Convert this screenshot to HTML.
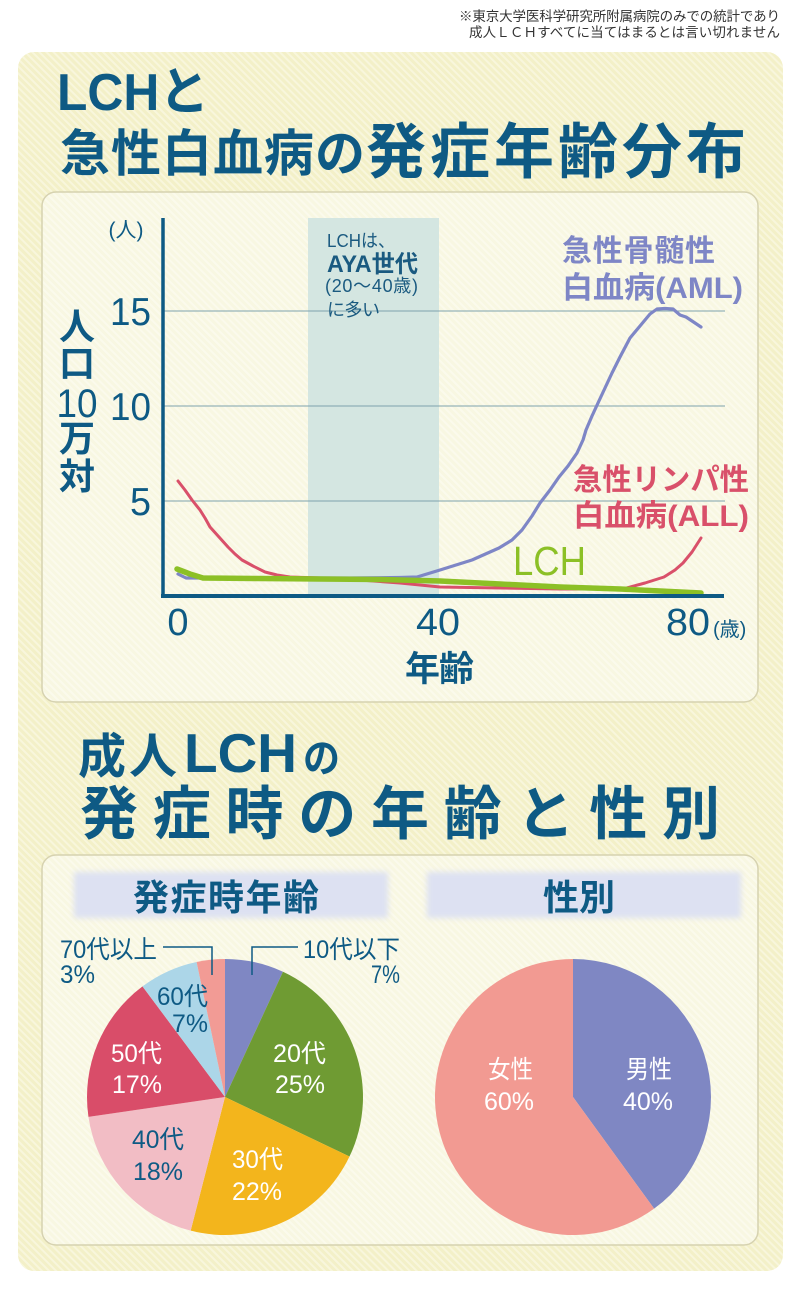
<!DOCTYPE html>
<html><head><meta charset="utf-8">
<style>
html,body{margin:0;padding:0;background:#fff;}
svg{display:block;}
text{font-family:"Liberation Sans","Noto Sans CJK JP",sans-serif;}
</style></head>
<body>
<svg width="800" height="1289" viewBox="0 0 800 1289" xmlns="http://www.w3.org/2000/svg">
<defs>
<pattern id="st" width="5" height="5" patternUnits="userSpaceOnUse" patternTransform="rotate(-45)">
<rect width="5" height="5" fill="#f3f0c8"/>
<rect width="2" height="5" fill="#f8f6dc"/>
</pattern>
<pattern id="st2" width="5" height="5" patternUnits="userSpaceOnUse" patternTransform="rotate(-45)">
<rect width="5" height="5" fill="#f8f7e2"/>
<rect width="2" height="5" fill="#fbfaec"/>
</pattern>
<filter id="bl" x="-10%" y="-30%" width="120%" height="160%"><feGaussianBlur stdDeviation="3"/></filter>
</defs>

<!-- note -->
<g fill="#333" font-size="13.5">
<text x="780" y="21" text-anchor="end" textLength="321">※東京大学医科学研究所附属病院のみでの統計であり</text>
<text x="780" y="37" text-anchor="end" textLength="311">成人ＬＣＨすべてに当てはまるとは言い切れません</text>
</g>

<!-- outer panel -->
<rect x="18" y="52" width="765" height="1219" rx="16" fill="url(#st)"/>

<!-- title 1 -->
<g fill="#0e5a84" font-weight="bold">
<text x="57" y="110" font-size="52" textLength="152" lengthAdjust="spacingAndGlyphs">LCHと</text>
<text x="60" y="171" font-size="50" textLength="305">急性白血病の</text>
<text x="366" y="173" font-size="60" textLength="380">発症年齢分布</text>
</g>

<!-- chart panel -->
<rect x="42" y="192" width="716" height="510" rx="14" fill="url(#st2)" stroke="#d6d2b0" stroke-width="1.5"/>

<!-- shaded band -->
<rect x="308" y="218" width="131" height="378" fill="#d4e6e1"/>

<!-- gridlines -->
<g stroke="#7ea3ad" stroke-width="1">
<line x1="163" y1="311" x2="725" y2="311"/>
<line x1="163" y1="406" x2="725" y2="406"/>
<line x1="163" y1="501" x2="725" y2="501"/>
</g>

<!-- band text -->
<g fill="#1a5a80">
<text x="327" y="247" font-size="18" textLength="68" lengthAdjust="spacingAndGlyphs">LCHは、</text>
<text x="327" y="272" font-size="24" font-weight="bold" textLength="91" lengthAdjust="spacingAndGlyphs">AYA世代</text>
<text x="325" y="292" font-size="18" textLength="93">(20〜40歳)</text>
<text x="327" y="316" font-size="18" textLength="53">に多い</text>
</g>

<!-- curves -->
<polyline fill="none" stroke="#7e86c6" stroke-width="3.2" stroke-linejoin="round" stroke-linecap="round"
points="178,574 186,578 250,578 300,578 350,578 400,577.5 417,577 440,570 472,560 499,548 512,540 522,530 532,516 540,503 550,490 559,477 568,466 577,453 583,440 586,430 592,416 598,403 605,388 612,373 620,357 630,338 640,326 650,314 657,309 665,308.5 673,309 680,315 686,317 692,321 701,327"/>
<polyline fill="none" stroke="#d9506a" stroke-width="3" stroke-linejoin="round" stroke-linecap="round"
points="178,481 185,490 192,500 200,510 205,518 210,527 219,537 228,547 235,554 242,560 253,566 265,572 277,575 290,577 320,578 360,580 400,583 440,587 500,588 560,589 623,589 645,583 664,577 675,570 683,563 692,552 701,538"/>
<polyline fill="none" stroke="#8cc026" stroke-width="5.5" stroke-linejoin="round" stroke-linecap="round"
points="177,569 190,574 203,578 260,578.5 320,579 380,579.5 440,581 500,584 560,587 620,589 660,591 701,593"/>

<!-- axes -->
<line x1="163" y1="218" x2="163" y2="598" stroke="#0e5a84" stroke-width="3.5"/>
<line x1="161" y1="596" x2="724" y2="596" stroke="#0e5a84" stroke-width="4"/>

<!-- axis labels -->
<g fill="#0e5a84">
<text x="126" y="237" font-size="21" text-anchor="middle">(人)</text>
<text x="151" y="325" font-size="39" text-anchor="end" textLength="41" lengthAdjust="spacingAndGlyphs">15</text>
<text x="151" y="420" font-size="39" text-anchor="end" textLength="41" lengthAdjust="spacingAndGlyphs">10</text>
<text x="151" y="515" font-size="39" text-anchor="end" textLength="21" lengthAdjust="spacingAndGlyphs">5</text>
<g font-size="36" font-weight="bold" text-anchor="middle">
<text x="77" y="339">人</text>
<text x="77" y="376">口</text>
<text x="77" y="417" font-size="40" font-weight="normal" textLength="41" lengthAdjust="spacingAndGlyphs">10</text>
<text x="77" y="451">万</text>
<text x="77" y="489">対</text>
</g>
<text x="178" y="635" font-size="38" text-anchor="middle">0</text>
<text x="438" y="635" font-size="38" text-anchor="middle" textLength="44" lengthAdjust="spacingAndGlyphs">40</text>
<text x="688" y="635" font-size="38" text-anchor="middle" textLength="44" lengthAdjust="spacingAndGlyphs">80</text>
<text x="713" y="636" font-size="20">(歳)</text>
<text x="405" y="681" font-size="35" font-weight="bold" textLength="69">年齢</text>
</g>

<!-- series labels -->
<g font-weight="bold" font-size="30">
<text x="562" y="261" fill="#7e86c6" textLength="153">急性骨髄性</text>
<text x="562" y="298" fill="#7e86c6" textLength="181" lengthAdjust="spacingAndGlyphs">白血病(AML)</text>
<text x="573" y="490" fill="#d9506a" textLength="176" lengthAdjust="spacingAndGlyphs">急性リンパ性</text>
<text x="573" y="526" fill="#d9506a" textLength="176" lengthAdjust="spacingAndGlyphs">白血病(ALL)</text>
</g>
<text x="513" y="575" font-size="41" fill="#8cc026" textLength="73" lengthAdjust="spacingAndGlyphs">LCH</text>

<!-- title 2 -->
<g fill="#0e5a84" font-weight="bold">
<text x="78" y="773" font-size="48" textLength="99">成人</text>
<text x="184" y="772" font-size="55" textLength="113" lengthAdjust="spacingAndGlyphs">LCH</text>
<text x="303" y="772" font-size="40" textLength="37" lengthAdjust="spacingAndGlyphs">の</text>
<text x="80" y="834" font-size="58" textLength="640">発症時の年齢と性別</text>
</g>

<!-- pie panel -->
<rect x="42" y="855" width="716" height="390" rx="14" fill="url(#st2)" stroke="#d6d2b0" stroke-width="1.5"/>

<rect x="74" y="872" width="314" height="46" fill="#dde1f2" filter="url(#bl)"/>
<rect x="427" y="872" width="314" height="46" fill="#dde1f2" filter="url(#bl)"/>
<g fill="#0e5a84" font-weight="bold" font-size="36">
<text x="133" y="910" textLength="186">発症時年齢</text>
<text x="543" y="910" textLength="72">性別</text>
</g>

<!-- pie 1 -->
<g>
<path d="M225,1097 L225,959 A138,138 0 0 1 282.97,971.76 Z" fill="#7f87c3"/>
<path d="M225,1097 L282.97,971.76 A138,138 0 0 1 349.49,1156.53 Z" fill="#6f9b33"/>
<path d="M225,1097 L349.49,1156.53 A138,138 0 0 1 190.68,1230.67 Z" fill="#f3b51c"/>
<path d="M225,1097 L190.68,1230.67 A138,138 0 0 1 88.44,1116.87 Z" fill="#f2bdc5"/>
<path d="M225,1097 L88.44,1116.87 A138,138 0 0 1 142.49,986.38 Z" fill="#d94d69"/>
<path d="M225,1097 L142.49,986.38 A138,138 0 0 1 196.59,961.95 Z" fill="#acd6e8"/>
<path d="M225,1097 L196.59,961.95 A138,138 0 0 1 225,959 Z" fill="#f29b95"/>
</g>
<g fill="none" stroke="#0e5a84" stroke-width="1.5">
<polyline points="163,947 212,947 212,975"/>
<polyline points="252,975 252,947 298,947"/>
</g>
<g font-size="25">
<g fill="#0e5a84">
<text x="60" y="958" textLength="97" lengthAdjust="spacingAndGlyphs">70代以上</text>
<text x="60" y="983" textLength="35" lengthAdjust="spacingAndGlyphs">3%</text>
<text x="303" y="958" textLength="97" lengthAdjust="spacingAndGlyphs">10代以下</text>
<text x="400" y="983" text-anchor="end" textLength="29" lengthAdjust="spacingAndGlyphs">7%</text>
<text x="157" y="1005" textLength="51" lengthAdjust="spacingAndGlyphs">60代</text>
<text x="172" y="1032" textLength="36" lengthAdjust="spacingAndGlyphs">7%</text>
<text x="132" y="1148" textLength="52" lengthAdjust="spacingAndGlyphs">40代</text>
<text x="133" y="1180" textLength="50" lengthAdjust="spacingAndGlyphs">18%</text>
</g>
<g fill="#fff">
<text x="273" y="1062" textLength="53" lengthAdjust="spacingAndGlyphs">20代</text>
<text x="275" y="1093" textLength="50" lengthAdjust="spacingAndGlyphs">25%</text>
<text x="111" y="1062" textLength="51" lengthAdjust="spacingAndGlyphs">50代</text>
<text x="112" y="1093" textLength="50" lengthAdjust="spacingAndGlyphs">17%</text>
<text x="232" y="1168" textLength="51" lengthAdjust="spacingAndGlyphs">30代</text>
<text x="232" y="1200" textLength="50" lengthAdjust="spacingAndGlyphs">22%</text>
</g>
</g>

<!-- pie 2 -->
<path d="M573,1097 L573,959 A138,138 0 0 1 654.11,1208.64 Z" fill="#7f87c3"/>
<path d="M573,1097 L654.11,1208.64 A138,138 0 1 1 573,959 Z" fill="#f29a92"/>
<g fill="#fff" font-size="25">
<text x="626" y="1078" textLength="46" lengthAdjust="spacingAndGlyphs">男性</text>
<text x="623" y="1110" textLength="50" lengthAdjust="spacingAndGlyphs">40%</text>
<text x="488" y="1078" textLength="45" lengthAdjust="spacingAndGlyphs">女性</text>
<text x="484" y="1110" textLength="50" lengthAdjust="spacingAndGlyphs">60%</text>
</g>
</svg>
</body></html>
